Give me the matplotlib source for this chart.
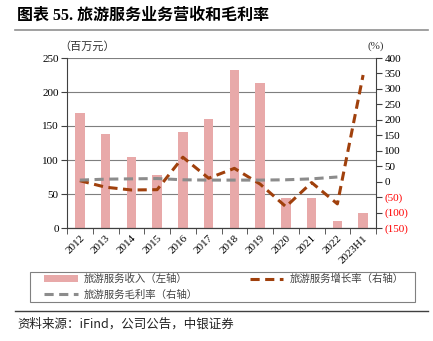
import matplotlib
matplotlib.use("Agg")
import matplotlib.pyplot as plt
import numpy as np
from matplotlib.ticker import FuncFormatter, FixedLocator
from matplotlib.patches import Rectangle

plt.rcParams['font.family'] = ['Liberation Serif', 'Noto Sans CJK SC', 'DejaVu Sans']

categories = ['2012', '2013', '2014', '2015', '2016', '2017', '2018', '2019',
              '2020', '2021', '2022', '2023H1']
revenue = [169, 138, 104, 78, 141, 161, 233, 213, 43.5, 43.5, 10, 22]
growth = [3, -18, -27, -26, 79, 11, 43, -8, -81, -3, -72, 345]
margin = [5, 8, 9, 10, 6, 5, 5, 5, 6, 9, 15]

left_ticks = [0, 50, 100, 150, 200, 250]
right_ticks = [-150, -100, -50, 0, 50, 100, 150, 200, 250, 300, 350, 400]

BAR_C = '#E8A9A9'
GROW_C = '#A0400C'
MARG_C = '#8C8C8C'
CJK = ['Noto Sans CJK SC', 'DejaVu Sans']

fig = plt.figure(figsize=(4.33, 3.41), dpi=100)
ax = fig.add_axes([67/433, 1-228/341, (376-67)/433, 170/341])
ax2 = ax.twinx()

x = np.arange(len(categories))
b = ax.bar(x, revenue, width=0.36, color=BAR_C, zorder=2, label='旅游服务收入（左轴）')
lg, = ax2.plot(x, growth, color=GROW_C, lw=2.2, dashes=(3, 1.8), zorder=3, label='旅游服务增长率（右轴）')
lm, = ax2.plot(x[:len(margin)], margin, color=MARG_C, lw=2.2, dashes=(3, 1.8), zorder=3, label='旅游服务毛利率（右轴）')

ax.set_xlim(-0.5, len(categories)-0.5)
ax.set_ylim(0, 250)
ax2.set_ylim(-150, 400)
ax.set_yticks(left_ticks)
ax2.set_yticks(right_ticks)

ax.yaxis.grid(True, color='#7f7f7f', lw=0.8)
ax.set_axisbelow(True)

def rfmt(v, pos):
    v = int(round(v))
    return f'({abs(v)})' if v < 0 else f'{v}'
ax2.yaxis.set_major_formatter(FuncFormatter(rfmt))

ax.set_xticks(x)
ax.set_xticklabels(categories, rotation=45, ha='right', rotation_mode='anchor', fontsize=8)
ax.tick_params(axis='x', length=0, pad=4)
ax.xaxis.set_minor_locator(FixedLocator(np.arange(-0.5, len(categories), 1)))
ax.tick_params(axis='x', which='minor', length=4, direction='out', color='#404040')

ax.tick_params(axis='y', labelsize=8, length=4, direction='out', color='#404040', pad=2)
ax2.tick_params(axis='y', labelsize=8, length=4, direction='out', color='#404040', pad=2)
for t, v in zip(ax2.get_yticklabels(), right_ticks):
    if v < 0:
        t.set_color('#FF0000')

for a in (ax, ax2):
    a.spines['top'].set_visible(False)
    a.spines['left'].set_color('#404040')
    a.spines['right'].set_color('#404040')
    a.spines['bottom'].set_color('#404040')
ax2.spines['left'].set_visible(False)
ax.spines['right'].set_visible(False)

fig.text(17/433, 1-16/341, '图表 55. 旅游服务业务营收和毛利率', fontsize=11.5, fontweight='bold',
         family=['Liberation Serif', 'Noto Sans CJK SC'], va='center', ha='left')
fig.add_artist(plt.Line2D([15/433, 428/433], [1-30/341, 1-30/341], color='#909090', lw=1.2))
fig.text(87/433, 1-46/341, '（百万元）', fontsize=8, family=CJK, va='center', ha='center', color='#333333')
fig.text(376/433, 1-46/341, '(%)', fontsize=8, va='center', ha='center', color='#333333')

fig.add_artist(Rectangle((30/433, 1-302/341), 385/433, 30/341, transform=fig.transFigure,
                         fill=False, edgecolor='#808080', lw=0.8))
leg = fig.legend(handles=[b, lm, lg], loc='center',
                 bbox_to_anchor=(224/433, 1-287/341),
                 ncol=2, prop={'family': CJK, 'size': 7.5}, frameon=False,
                 handlelength=3.2, handletextpad=0.6, columnspacing=5.0,
                 borderaxespad=0, labelspacing=0.55, borderpad=0)
for t in leg.get_texts():
    t.set_color('#444444')

fig.add_artist(plt.Line2D([15/433, 428/433], [1-311/341, 1-311/341], color='#404040', lw=1.0))
fig.text(17/433, 1-324/341, '资料来源：iFind，公司公告，中银证券', fontsize=9, style='italic',
         family=CJK, va='center', ha='left', color='#222222')

fig.savefig('out.png', dpi=100)
